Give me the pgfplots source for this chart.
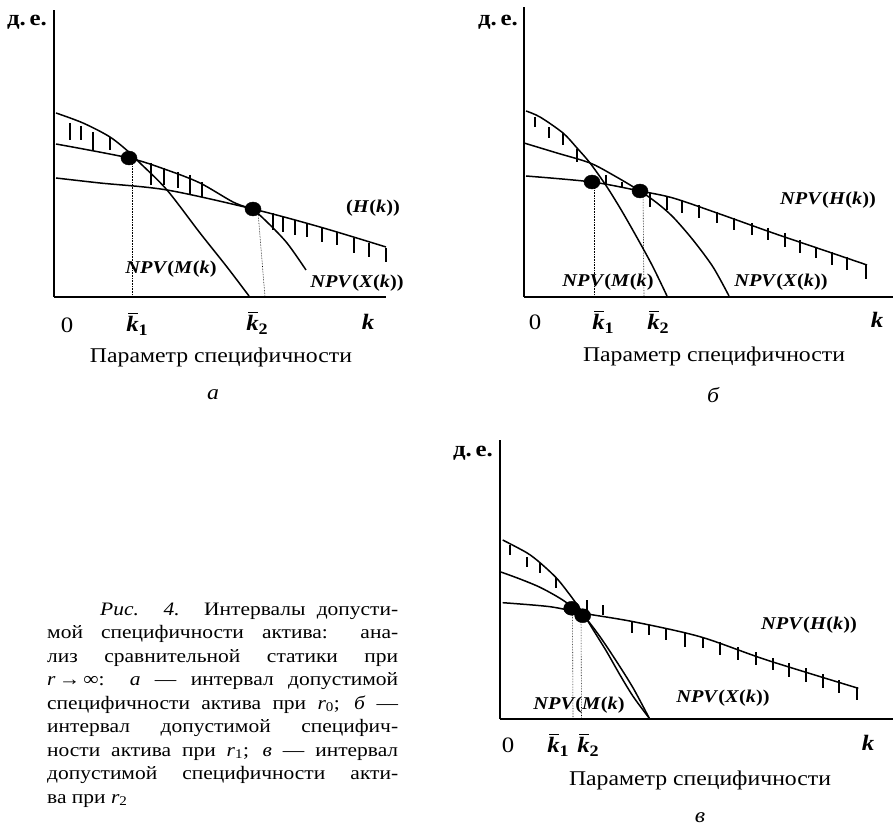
\documentclass[border=0pt]{standalone}
\usepackage{fontspec}
\setmainfont{Liberation Serif}[FakeStretch=1.13]
\usepackage{pgfplots}
\pgfplotsset{compat=1.18}
\newcommand{\lab}{\fontsize{18}{20}\selectfont\bfseries}
\newcommand{\tk}{\fontsize{22}{22}\selectfont}
\newcommand{\xl}{\fontsize{21}{23}\selectfont}
\newcommand{\capf}{\fontsize{19}{23.5}\selectfont}
\newcommand{\kb}[1]{{\tk\bfseries\rlap{\hspace{0.1em}\raisebox{0.8em}{\rule{0.44em}{1.3pt}}}\textit{k}\raisebox{-0.35ex}{\fontsize{16}{16}\selectfont\bfseries #1}}}
\newcommand{\npv}[1]{\textit{NPV}(\textit{#1}(\textit{k})}
\pgfplotsset{
 panel/.style={anchor=south west, scale only axis, axis lines=left,
   axis line style={-, line width=1.6pt}, xtick=\empty, ytick=\empty,
   xmin=0, ymin=0, enlargelimits=false, clip=false, unbounded coords=jump},
 curve/.style={black, line width=1.5pt, smooth, mark=none},
 hatch/.style={black, line width=1.2pt, mark=none},
 dots/.style={only marks, mark=*, mark size=7pt, black, mark options={xscale=1.15}},
 guide/.style={black, densely dotted, line width=0.6pt, mark=none},
}
\begin{document}
\begin{tikzpicture}
\path[use as bounding box] (0,0) rectangle (893pt,830pt);
% ---------------- panel a
\begin{axis}[panel, at={(54pt,533pt)}, width=332pt, height=287pt, xmax=332, ymax=287]
\addplot[curve] coordinates {(2,184) (29,174) (56,160) (76,144) (86,134) (113,107) (146,64) (173,30) (195,1)};
\addplot[curve] coordinates {(2,153) (75,139) (113,127) (146,114) (179,95) (199,87) (213,75) (233,54) (252,27)};
\addplot[curve] coordinates {(2,119) (46,114) (113,107) (199,88) (266,70) (332,50)};
\addplot[hatch] coordinates {
 (16,174) (16,157) (16,nan) (27,171) (27,157) (27,nan) (39,165) (39,147) (39,nan) (56,160) (56,147) (56,nan)
 (97,134) (97,112) (97,nan) (110,129) (110,112) (110,nan) (124,125) (124,109) (124,nan)
 (136,122) (136,102) (136,nan) (148,115) (148,100) (148,nan)
 (219,84) (219,67) (219,nan) (229,80) (229,65) (229,nan) (241,77) (241,62) (241,nan)
 (253,74) (253,60) (253,nan) (268,70) (268,55) (268,nan) (283,65) (283,52) (283,nan)
 (300,59) (300,44) (300,nan) (315,54) (315,40) (315,nan) (332,49) (332,35)};
\addplot[guide] coordinates {(78,139) (78,0)};
\addplot[guide] coordinates {(204,85) (211,0)};
\addplot[dots] coordinates {(75,139) (199,88)};
\node[font=\lab] at (axis cs:319,89) {(\textit{H}(\textit{k}))};
\node[font=\lab] at (axis cs:117,28) {\npv{M}};
\node[font=\lab] at (axis cs:303,14) {\npv{X})};
\node[font=\tk] at (axis cs:13,-28) {0};
\node at (axis cs:83,-27) {\kb{1}};
\node at (axis cs:203,-26) {\kb{2}};
\node[font=\tk\bfseries\itshape] at (axis cs:314,-25) {k};
\node[font=\xl] at (axis cs:167,-60) {Параметр специфичности};
\node[font=\xl\itshape] at (axis cs:159,-98) {а};
\node[font=\tk\bfseries] at (axis cs:-27,275) {д.\,е.};
\end{axis}
% ---------------- panel b
\begin{axis}[panel, at={(524pt,533pt)}, width=369pt, height=290pt, xmax=369, ymax=290]
\addplot[curve] coordinates {(2,186) (16,180) (39,164) (53,149) (66,134) (83,110) (99,84) (116,54) (129,30) (143,1)};
\addplot[curve] coordinates {(0,154) (33,144) (66,134) (89,122) (116,106) (133,94) (149,80) (169,57) (189,30) (205,1)};
\addplot[curve] coordinates {(2,121) (68,115) (116,106) (149,99) (193,84) (249,64) (299,47) (343,32)};
\addplot[hatch] coordinates {
 (11,180) (11,170) (11,nan) (25,170) (25,159) (25,nan) (39,164) (39,152) (39,nan) (53,148) (53,135) (53,nan)
 (82,122) (82,112) (82,nan) (98,115) (98,109) (98,nan)
 (126,104) (126,90) (126,nan) (143,100) (143,87) (143,nan) (158,97) (158,84) (158,nan)
 (175,92) (175,79) (175,nan) (193,85) (193,74) (193,nan) (210,79) (210,67) (210,nan)
 (228,74) (228,62) (228,nan) (244,69) (244,57) (244,nan) (261,64) (261,50) (261,nan)
 (276,57) (276,44) (276,nan) (292,50) (292,39) (292,nan) (308,45) (308,32) (308,nan)
 (323,40) (323,27) (323,nan) (342,33) (342,18)};
\addplot[guide] coordinates {(70,115) (70,0)};
\addplot[guide] coordinates {(119,106) (120,0)};
\addplot[dots] coordinates {(68,115) (116,106)};
\node[font=\lab] at (axis cs:304,97) {\npv{H})};
\node[font=\lab] at (axis cs:84,15) {\npv{M}};
\node[font=\lab] at (axis cs:257,15) {\npv{X})};
\node[font=\tk] at (axis cs:11,-25) {0};
\node at (axis cs:79,-25) {\kb{1}};
\node at (axis cs:134,-25) {\kb{2}};
\node[font=\tk\bfseries\itshape] at (axis cs:353,-23) {k};
\node[font=\xl] at (axis cs:190,-59) {Параметр специфичности};
\node[font=\xl\itshape] at (axis cs:189,-98) {б};
\node[font=\tk\bfseries] at (axis cs:-26,275) {д.\,е.};
\end{axis}
% ---------------- panel c
\begin{axis}[panel, at={(500pt,111pt)}, width=393pt, height=279pt, xmax=393, ymax=279]
\addplot[curve] coordinates {(2.7,179) (26.7,166.3) (40,156.3) (56.7,140.7) (70,124) (81.7,107.7) (93.3,89) (106.7,67.3) (120,44) (133.3,22.3) (149.3,0.7)};
\addplot[curve] coordinates {(0,147.3) (20,140) (40,131.7) (60,120.7) (76.7,109) (86.7,99.7) (100,82.3) (116.7,57.3) (133.3,30.7) (149.3,0.7)};
\addplot[curve] coordinates {(2.7,116.3) (50,112.3) (83.3,105.7) (133.3,97.3) (200,82.3) (266.7,59) (358.3,30.7)};
\addplot[hatch] coordinates {
 (10,174) (10,164) (10,nan) (27,162) (27,152) (27,nan) (40,156) (40,146) (40,nan) (56,142) (56,131) (56,nan)
 (87,119) (87,104) (87,nan) (103,114) (103,104) (103,nan)
 (132,97) (132,86) (132,nan) (149,94) (149,84) (149,nan) (166,91) (166,79) (166,nan)
 (185,86) (185,72) (185,nan) (203,81) (203,71) (203,nan) (220,77) (220,64) (220,nan)
 (238,72) (238,59) (238,nan) (256,67) (256,54) (256,nan) (273,61) (273,49) (273,nan)
 (289,56) (289,42) (289,nan) (306,51) (306,37) (306,nan) (323,45) (323,31) (323,nan)
 (339,39) (339,26) (339,nan) (357,32) (357,19)};
\addplot[guide] coordinates {(72.5,110) (73,0)};
\addplot[guide] coordinates {(81,103) (81.5,0)};
\addplot[dots] coordinates {(71.7,110.7) (82.7,103.3)};
\node[font=\lab] at (axis cs:309,94) {\npv{H})};
\node[font=\lab] at (axis cs:79,14) {\npv{M}};
\node[font=\lab] at (axis cs:223,21) {\npv{X})};
\node[font=\tk] at (axis cs:8,-26) {0};
\node at (axis cs:58,-26) {\kb{1}};
\node at (axis cs:88,-26) {\kb{2}};
\node[font=\tk\bfseries\itshape] at (axis cs:368,-24) {k};
\node[font=\xl] at (axis cs:200,-61) {Параметр специфичности};
\node[font=\xl\itshape] at (axis cs:200,-99) {в};
\node[font=\tk\bfseries] at (axis cs:-27,266) {д.\,е.};
\end{axis}
% ---------------- caption
\begin{scope}[every node/.style={anchor=base west, inner sep=0pt, font=\capf}]
\node at (100pt,215pt) {\makebox[298pt][s]{\textit{Рис. 4.} Интервалы допусти-}};
\node at (47pt,191.5pt) {\makebox[351pt][s]{мой специфичности актива: ана-}};
\node at (47pt,168pt) {\makebox[351pt][s]{лиз сравнительной статики при}};
\node at (47pt,144.5pt) {\makebox[351pt][s]{\textit{r}\,→\,∞: \textit{а} — интервал допустимой}};
\node at (47pt,121pt) {\makebox[351pt][s]{специфичности актива при \textit{r}\textsubscript{0}; \textit{б} —}};
\node at (47pt,97.5pt) {\makebox[351pt][s]{интервал допустимой специфич-}};
\node at (47pt,74pt) {\makebox[351pt][s]{ности актива при \textit{r}\textsubscript{1}; \textit{в} — интервал}};
\node at (47pt,50.5pt) {\makebox[351pt][s]{допустимой специфичности акти-}};
\node at (47pt,27pt) {ва при \textit{r}\textsubscript{2}};
\end{scope}
\end{tikzpicture}
\end{document}
